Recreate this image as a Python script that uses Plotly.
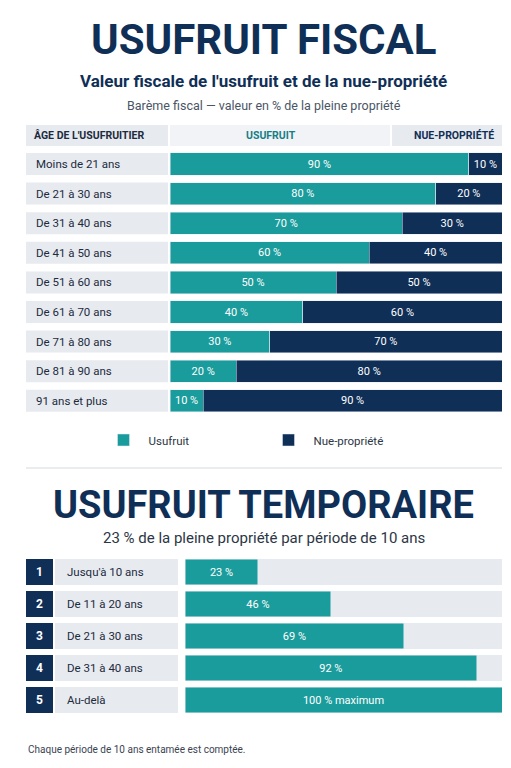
import plotly.graph_objects as go

# Top table: fiscal scale
ages = ["Moins de 21 ans", "De 21 à 30 ans", "De 31 à 40 ans", "De 41 à 50 ans",
        "De 51 à 60 ans", "De 61 à 70 ans", "De 71 à 80 ans", "De 81 à 90 ans",
        "91 ans et plus"]
usufruit = [90, 80, 70, 60, 50, 40, 30, 20, 10]
nue_propriete = [10, 20, 30, 40, 50, 60, 70, 80, 90]

# Bottom table: temporary usufruct
periods = ["1", "2", "3", "4", "5"]
period_labels = ["Jusqu'à 10 ans", "De 11 à 20 ans", "De 21 à 30 ans",
                 "De 31 à 40 ans", "Au-delà"]
temp_values = [23, 46, 69, 92, 100]
temp_text = ["23 %", "46 %", "69 %", "92 %", "100 % maximum"]

TEAL = "#1b9c9c"
NAVY = "#102f57"
GRAY = "#e7eaef"
W, H = 511, 768
FONT = "Roboto"


def px(x):
    return x / W


def py(y):
    return 1 - y / H


fig = go.Figure()

fig.add_trace(go.Bar(
    y=ages, x=usufruit, orientation="h", name="Usufruit", marker_color=TEAL,
    text=[f"{v} %" for v in usufruit], textposition="inside",
    insidetextanchor="middle", textfont=dict(color="white", size=11, family=FONT),
    xaxis="x", yaxis="y"))
fig.add_trace(go.Bar(
    y=ages, x=nue_propriete, orientation="h", name="Nue-propriété", marker_color=NAVY,
    text=[f"{v} %" for v in nue_propriete], textposition="inside",
    insidetextanchor="middle", textfont=dict(color="white", size=11, family=FONT),
    xaxis="x", yaxis="y"))

# bottom: gray track + teal bar on overlaid axes
fig.add_trace(go.Bar(
    y=periods, x=[100] * len(periods), orientation="h", marker_color=GRAY,
    showlegend=False, hoverinfo="skip", xaxis="x2", yaxis="y2", width=0.8))
fig.add_trace(go.Bar(
    y=periods, x=temp_values, orientation="h", marker_color=TEAL,
    text=temp_text, textposition="inside", insidetextanchor="middle",
    textfont=dict(color="white", size=11, family=FONT),
    showlegend=False, xaxis="x3", yaxis="y3", width=0.8))

shapes = []
annotations = []

# header row
shapes.append(dict(type="rect", xref="paper", yref="paper", x0=px(18), x1=px(160),
                   y0=py(138), y1=py(117), fillcolor=GRAY, line_width=0))
shapes.append(dict(type="rect", xref="paper", yref="paper", x0=px(162), x1=px(382),
                   y0=py(138), y1=py(117), fillcolor="#f1f3f6", line_width=0))
shapes.append(dict(type="rect", xref="paper", yref="paper", x0=px(384), x1=px(494),
                   y0=py(138), y1=py(117), fillcolor=GRAY, line_width=0))
annotations += [
    dict(text="<b>ÂGE DE L'USUFRUITIER</b>", x=px(24), y=py(127), xanchor="left",
         font=dict(size=10.5, color="#1d2b3e")),
    dict(text="<b>USUFRUIT</b>", x=px(263), y=py(127), xanchor="center",
         font=dict(size=10.5, color="#167f86")),
    dict(text="<b>NUE-PROPRIÉTÉ</b>", x=px(446), y=py(127), xanchor="center",
         font=dict(size=10.5, color=NAVY)),
]

# age label cells
for i, a in enumerate(ages):
    yc = 156 + i * 29.6
    shapes.append(dict(type="rect", xref="paper", yref="paper", x0=px(18), x1=px(160),
                       y0=py(yc + 11), y1=py(yc - 11), fillcolor=GRAY, line_width=0))
    annotations.append(dict(text=a, x=px(26), y=py(yc), xanchor="left",
                            font=dict(size=11.5, color="#1d2b3e")))

# bottom label cells
for i, (n, lab) in enumerate(zip(periods, period_labels)):
    yc = 564 + i * 32
    shapes.append(dict(type="rect", xref="paper", yref="paper", x0=px(18), x1=px(45),
                       y0=py(yc + 13), y1=py(yc - 13), fillcolor=NAVY, line_width=0))
    shapes.append(dict(type="rect", xref="paper", yref="paper", x0=px(47), x1=px(170),
                       y0=py(yc + 13), y1=py(yc - 13), fillcolor=GRAY, line_width=0))
    annotations.append(dict(text=f"<b>{n}</b>", x=px(31.5), y=py(yc), xanchor="center",
                            font=dict(size=12, color="white")))
    annotations.append(dict(text=lab, x=px(57), y=py(yc), xanchor="left",
                            font=dict(size=11.5, color="#1d2b3e")))

# separator
shapes.append(dict(type="line", xref="paper", yref="paper", x0=px(18), x1=px(494),
                   y0=py(460), y1=py(460), line=dict(color="#d5d9df", width=1)))

# titles
annotations += [
    dict(text="<b>USUFRUIT FISCAL</b>", x=0.5, y=py(32), xanchor="center",
         font=dict(size=42, color=NAVY, family="Liberation Sans Narrow, Roboto")),
    dict(text="<b>Valeur fiscale de l'usufruit et de la nue-propriété</b>", x=0.5,
         y=py(73), xanchor="center", font=dict(size=17, color=NAVY,
                                               family="Liberation Sans Narrow, Roboto")),
    dict(text="Barème fiscal — valeur en % de la pleine propriété", x=0.5, y=py(97),
         xanchor="center", font=dict(size=12.5, color="#4a5566")),
    dict(text="<b>USUFRUIT TEMPORAIRE</b>", x=0.5, y=py(497), xanchor="center",
         font=dict(size=38, color=NAVY, family="Liberation Sans Narrow, Roboto")),
    dict(text="23 % de la pleine propriété par période de 10 ans", x=0.5, y=py(530),
         xanchor="center", font=dict(size=15, color="#2c3645")),
    dict(text="Chaque période de 10 ans entamée est comptée.", x=px(18), y=py(741),
         xanchor="left", font=dict(size=10, color="#3a4452")),
]
for a in annotations:
    a.update(xref="paper", yref="paper", showarrow=False, yanchor="middle")

top_dom = [py(156 + 8 * 29.6 + 14.8), py(156 - 14.8)]
bot_dom = [py(564 + 4 * 32 + 16), py(564 - 16)]
hidden = dict(showgrid=False, zeroline=False, showticklabels=False, fixedrange=True)

fig.update_layout(
    width=W, height=H, margin=dict(l=0, r=0, t=0, b=0),
    paper_bgcolor="white", plot_bgcolor="white",
    font=dict(family=FONT, color="#1d2b3e"),
    barmode="stack", bargap=0.25,
    xaxis=dict(domain=[px(162), px(494)], range=[0, 100], **hidden),
    yaxis=dict(domain=top_dom, autorange="reversed", **hidden),
    xaxis2=dict(domain=[px(177), px(494)], range=[0, 100], anchor="y2", **hidden),
    yaxis2=dict(domain=bot_dom, autorange="reversed", anchor="x2", **hidden),
    xaxis3=dict(domain=[px(177), px(494)], range=[0, 100], anchor="y3",
                overlaying="x2", **hidden),
    yaxis3=dict(domain=bot_dom, autorange="reversed", anchor="x3",
                overlaying="y2", **hidden),
    legend=dict(orientation="h", x=0.5, xanchor="center", y=py(432), yanchor="middle",
                font=dict(size=11.5, color="#2c3645"), itemwidth=40,
                entrywidth=110, traceorder="normal"),
    shapes=shapes, annotations=annotations,
)

fig.write_html("out.html")
